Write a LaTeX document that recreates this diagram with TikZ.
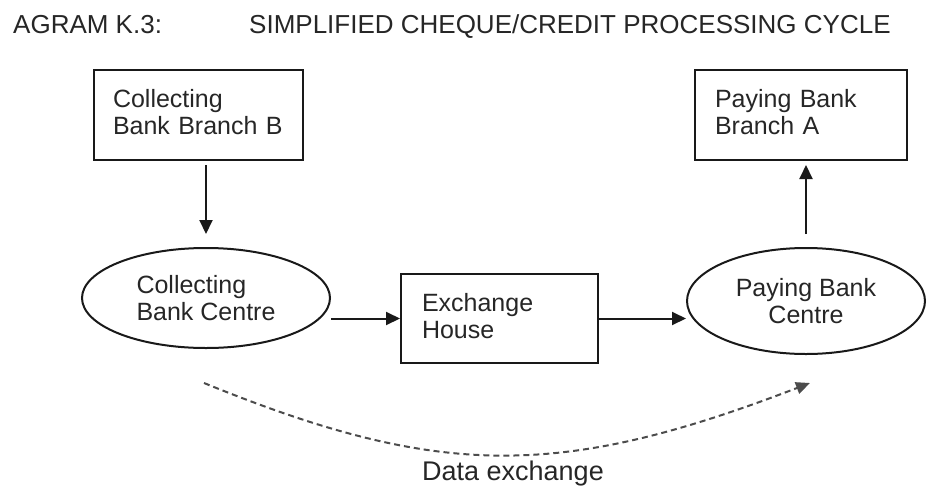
\documentclass[tikz,border=0pt]{standalone}
\usepackage{fontspec}
\setmainfont{Liberation Sans}
\usetikzlibrary{arrows.meta,shapes.geometric}
\begin{document}
\begin{tikzpicture}[x=1pt,y=-1pt,
  lw/.style={line width=2pt, draw=black!90},
  bodyfont/.style={font=\fontsize{25}{27}\selectfont, text=black!85},
  boxnode/.style={lw, rectangle, bodyfont, anchor=north west, align=left, inner ysep=0pt},
  ellnode/.style={lw, ellipse, bodyfont, inner sep=0pt},
  arr/.style={lw, -{Triangle[length=14pt,width=13pt]}},
  dasharr/.style={line width=2pt, draw=black!70, dash pattern=on 6pt off 4pt, -{Triangle[length=14pt,width=12pt]}},
  titlefont/.style={font=\fontsize{26}{28}\selectfont, text=black!85}
]
\useasboundingbox (0,0) rectangle (927,485);

% title
\node[titlefont, anchor=base west, inner sep=0pt] (t1) at (13,33) {AGRAM K.3:};
\node[titlefont, anchor=base west, inner sep=0pt] (t2) at (249,33) {SIMPLIFIED CHEQUE/CREDIT PROCESSING CYCLE};

% boxes
\node[boxnode, inner xsep=19pt, text width=171pt, minimum height=90pt] (B) at (93,69) {Collecting\\Bank Branch B\vphantom{g}};
\node[boxnode, inner xsep=20pt, text width=172pt, minimum height=90pt] (PB) at (694,69) {Paying Bank\\Branch A\vphantom{g}};
\node[boxnode, inner xsep=21pt, text width=155pt, minimum height=89pt] (E) at (400,273) {Exchange\\House\vphantom{g}};

% ellipses
\node[ellnode, minimum width=248pt, minimum height=100pt, align=left] (C) at (206,298) {Collecting\\Bank Centre};
\node[ellnode, minimum width=238pt, minimum height=106pt, align=center] (PC) at (806,301) {Paying Bank\\Centre};

% connectors
\draw[arr, shorten <=4pt, shorten >=13pt] (B.south -| C.north) -- (C.north);
\draw[arr, shorten <=13pt, shorten >=4pt] (PC.north) -- (PC.north |- PB.south);
\draw[arr] (C.east |- E.west) -- (E.west);
\draw[arr] (E.east) -- (E.east -| PC.west);

% data exchange
\coordinate (ds) at (204,383);
\coordinate (de) at (810,383);
\draw[dasharr] (ds) .. controls (440,479) and (560,479) .. (de);
\node[bodyfont, font=\fontsize{27}{29}\selectfont, anchor=base, inner sep=0pt] (dx) at (513,480) {Data exchange};
\end{tikzpicture}
\end{document}
